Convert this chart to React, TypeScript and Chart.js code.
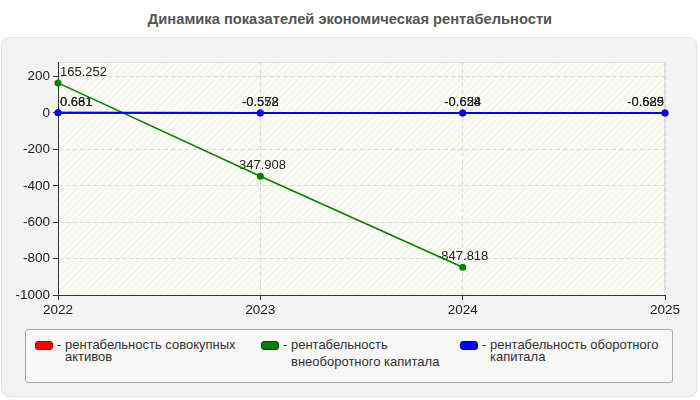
import { useEffect, useRef } from "react"
import { Chart, registerables } from "chart.js"

Chart.register(...registerables)

const years = ["2022", "2023", "2024", "2025"]
const totalAssetsReturn = [0.681, -0.572, -0.624, -0.629]
const fixedCapitalReturn = [165.252, -347.908, -847.818, null]
const workingCapitalReturn = [0.661, -0.558, -0.658, -0.685]
const yMin = -1000
const yMax = 280
const yStep = 200

const legendItems = [
  { color: "#ff0000", border: "#b00000", lines: ["- рентабельность совокупных", "активов"], left: 35, gap: 0 },
  { color: "#008000", border: "#005000", lines: ["- рентабельность", "внеоборотного капитала"], left: 261, gap: 5 },
  { color: "#0000ff", border: "#0000a0", lines: ["- рентабельность оборотного", "капитала"], left: 460, gap: 0 },
]

// hatched plot background + light frame
const plotBackground = {
  id: "plotBackground",
  beforeDraw(chart: Chart) {
    const { ctx, chartArea: a } = chart
    const tile = document.createElement("canvas")
    tile.width = 7
    tile.height = 7
    const t = tile.getContext("2d")!
    t.fillStyle = "#fcfcf6"
    t.fillRect(0, 0, 7, 7)
    t.strokeStyle = "#ededE4"
    t.lineWidth = 1
    t.beginPath()
    t.moveTo(-1, 8)
    t.lineTo(8, -1)
    t.stroke()
    ctx.save()
    ctx.fillStyle = ctx.createPattern(tile, "repeat")!
    ctx.fillRect(a.left, a.top, a.right - a.left, a.bottom - a.top)
    ctx.strokeStyle = "#dddddd"
    ctx.lineWidth = 1
    ctx.strokeRect(a.left + 0.5, a.top + 0.5, a.right - a.left - 1, a.bottom - a.top)
    ctx.restore()
  },
}

// value labels, drawn under the lines (like the original)
const pointLabels = {
  id: "pointLabels",
  beforeDatasetsDraw(chart: Chart) {
    const { ctx, chartArea: a } = chart
    ctx.save()
    ctx.font = "13px Arial"
    ctx.fillStyle = "#222"
    ctx.textBaseline = "alphabetic"
    chart.data.datasets.forEach((ds, i) => {
      const meta = chart.getDatasetMeta(i)
      meta.data.forEach((pt: any, j: number) => {
        const v = ds.data[j] as number | null
        if (v === null || v === undefined) return
        const text = String(v)
        const w = ctx.measureText(text).width
        let x = pt.x - w / 2
        if (x < a.left + 2) x = a.left + 2
        if (x + w > a.right - 1) x = a.right - 1 - w
        ctx.textAlign = "left"
        ctx.fillText(text, x, pt.y - 7)
      })
    })
    ctx.restore()
  },
}

export default function App() {
  const chartRef = useRef<HTMLCanvasElement>(null)
  const chartInstance = useRef<Chart | null>(null)

  useEffect(() => {
    if (!chartRef.current) return
    if (chartInstance.current) chartInstance.current.destroy()
    const ctx = chartRef.current.getContext("2d")
    if (!ctx) return

    chartInstance.current = new Chart(ctx, {
      type: "line",
      data: {
        labels: years,
        datasets: [
          {
            label: "рентабельность совокупных активов",
            data: totalAssetsReturn,
            borderColor: "#ff0000",
            backgroundColor: "#ff0000",
            borderWidth: 2,
            pointRadius: 3.5,
            pointBorderWidth: 0,
            order: 2,
          },
          {
            label: "рентабельность внеоборотного капитала",
            data: fixedCapitalReturn,
            borderColor: "#008000",
            backgroundColor: "#008000",
            borderWidth: 1.5,
            pointRadius: 3.5,
            pointBorderWidth: 0,
            order: 1,
          },
          {
            label: "рентабельность оборотного капитала",
            data: workingCapitalReturn,
            borderColor: "#0000ff",
            backgroundColor: "#0000ff",
            borderWidth: 2,
            pointRadius: 3.5,
            pointBorderWidth: 0,
            order: 0,
          },
        ],
      },
      options: {
        responsive: false,
        animation: false,
        layout: { padding: { left: 0, top: 62, right: 35, bottom: 0 } },
        plugins: {
          legend: { display: false },
          tooltip: { enabled: false },
        },
        scales: {
          x: {
            offset: false,
            grid: {
              offset: false,
              color: "#d8d8d8",
              tickColor: "#333",
              tickLength: 5,
              tickBorderDash: [],
            },
            border: { display: true, color: "#333", width: 1, dash: [4, 3] },
            ticks: { font: { family: "Arial", size: 13.5 }, color: "#222", maxRotation: 0, padding: 2 },
            afterFit: (scale: any) => {
              scale.height = 35
            },
          },
          y: {
            min: yMin,
            max: yMax,
            grid: {
              color: "#d8d8d8",
              tickColor: "#333",
              tickLength: 5,
              tickBorderDash: [],
            },
            border: { display: true, color: "#333", width: 1, dash: [4, 3] },
            ticks: {
              stepSize: yStep,
              includeBounds: false,
              font: { family: "Arial", size: 13.5 },
              color: "#222",
              padding: 3,
              callback: (v: any) => String(v),
            },
            afterFit: (scale: any) => {
              scale.width = 58
            },
          },
        },
      },
      plugins: [plotBackground, pointLabels],
    })

    return () => {
      if (chartInstance.current) {
        chartInstance.current.destroy()
        chartInstance.current = null
      }
    }
  }, [])

  return (
    <div style={{ position: "absolute", left: 0, top: 0, width: 700, height: 400, background: "#fff", fontFamily: "Arial" }}>
      <div
        style={{
          position: "absolute",
          left: 0,
          top: 11,
          width: 700,
          textAlign: "center",
          fontWeight: "bold",
          fontSize: 14.7,
          color: "#555",
        }}
      >
        Динамика показателей экономическая рентабельности
      </div>
      <div
        style={{
          position: "absolute",
          left: 1,
          top: 37,
          width: 694,
          height: 358,
          background: "#f3f3f3",
          border: "1px solid #e4e4e4",
          borderRadius: 8,
        }}
      />
      <canvas ref={chartRef} width={700} height={330} style={{ position: "absolute", left: 0, top: 0, width: 700, height: 330 }} />
      <div
        style={{
          position: "absolute",
          left: 25,
          top: 329,
          width: 646,
          height: 52,
          background: "#f8f8f8",
          border: "1px solid #aaa",
          borderRadius: 3,
        }}
      />
      {legendItems.map((item) => (
        <div key={item.left} style={{ position: "absolute", left: item.left, top: 339, fontSize: 13, color: "#333", lineHeight: "12px" }}>
          <div
            style={{
              position: "absolute",
              left: 0,
              top: 2,
              width: 16,
              height: 7,
              background: item.color,
              border: "1px solid " + item.border,
              borderRadius: 3,
            }}
          />
          <div style={{ position: "absolute", left: 22, top: 0, whiteSpace: "nowrap" }}>
            <div>{item.lines[0]}</div>
            <div style={{ marginTop: item.gap, paddingLeft: 8 }}>{item.lines[1]}</div>
          </div>
        </div>
      ))}
    </div>
  )
}
